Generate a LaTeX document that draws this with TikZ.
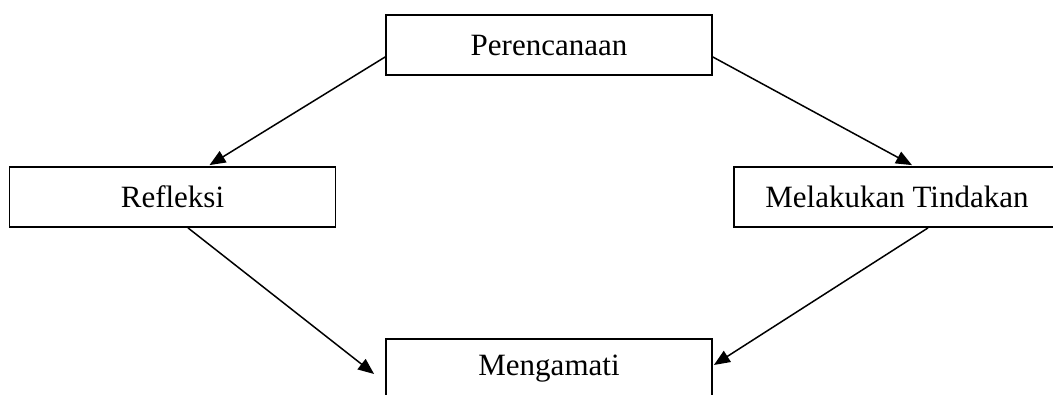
\documentclass[tikz,border=0pt]{standalone}
\usepackage{fontspec}
\setmainfont{Liberation Serif}
\usetikzlibrary{arrows.meta}
\begin{document}
\begin{tikzpicture}[x=1pt,y=-1pt,
  box/.style={draw, line width=1.8pt, minimum width=326pt, minimum height=60pt, inner sep=0pt, font=\fontsize{31}{37}\selectfont},
  conn/.style={line width=1.5pt, -{Triangle[length=16pt,width=13pt]}}]
\useasboundingbox (0,0) rectangle (1053,394);
\clip (0,0) rectangle (1053,394);
\node[box] (per) at (549,45) {Perencanaan};
\node[box] (ref) at (172.5,197) {Refleksi};
\node[box] (mel) at (897,197) {Melakukan Tindakan};
\node[box] (men) at (549,369) {Mengamati};
\draw[conn] ([yshift=-12pt]per.west) -- ([xshift=37pt,yshift=1pt]ref.north);
\draw[conn] ([yshift=-12pt]per.east) -- ([xshift=15pt,yshift=1pt]mel.north);
\draw[conn] ([xshift=15.5pt]ref.south) -- ([xshift=-11pt,yshift=-5pt]men.west);
\draw[conn] ([xshift=31pt]mel.south) -- ([xshift=1pt,yshift=4pt]men.east);
\end{tikzpicture}
\end{document}
